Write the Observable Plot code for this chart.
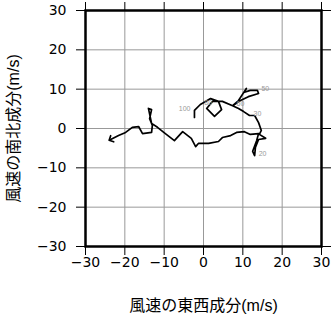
<!DOCTYPE html>
<html><head><meta charset="utf-8">
<script src="https://cdn.jsdelivr.net/npm/d3@7"></script>
<script src="https://cdn.jsdelivr.net/npm/@observablehq/plot@0.6"></script>
<style>body{margin:0;background:#fff}</style>
</head><body><div id="chart"></div>
<script>
// Hodograph: east-west (u) and north-south (v) wind components, m/s
const uValues = [-2.3,-2.3,-0.8,1.8,3.8,4.6,2.8,0.8,2.3,4.8,7.4,8.9,10.9,10.4,11.9,13.7,14.0,11.4,9.4,7.4,8.9,10.2,11.7,13.0,14.0,14.7,14.2,15.8,14.0,13.2,13.0,12.5,13.5,14.0,11.9,10.4,8.4,6.9,4.8,3.8,1.3,-1.3,-2.0,-3.1,-5.3,-7.4,-9.7,-11.7,-13.2,-14.0,-13.2,-13.7,-13.0,-13.2,-15.5,-16.5,-18.1,-19.8,-21.6,-23.6];
const vValues = [2.8,4.6,6.1,7.6,6.9,4.8,3.1,5.1,6.9,6.9,5.8,7.1,10.2,9.2,9.7,9.7,8.9,8.1,7.1,5.8,5.1,4.3,3.3,3.3,1.5,-0.5,-1.5,-2.5,-2.8,-4.8,-6.9,-5.8,-3.1,-1.3,-1.5,-0.8,-1.0,-1.8,-2.3,-3.3,-3.8,-3.8,-4.6,-2.5,-0.8,-3.1,-1.3,0.3,1.3,5.1,4.8,2.5,0.8,-1.0,-1.3,0.5,0.3,-1.0,-1.8,-2.8];
const levelLabels = ["100","80","60","50","30","20"];
const levelIndex = [1,2,10,15,22,30];
const ticks = [-30,-20,-10,0,10,20,30];
const gridTicks = [-20,-10,0,10,20];
const xTitle = "風速の東西成分(m/s)";
const yTitle = "風速の南北成分(m/s)";

const data = uValues.map((u,i)=>({u, v: vValues[i]}));
const labelData = levelLabels.map((t,k)=>({t, u: uValues[levelIndex[k]], v: vValues[levelIndex[k]]}));
const labelsStart = labelData.filter(d => d.t !== "100");
const labelsEnd = labelData.filter(d => d.t === "100");

const chart = Plot.plot({
  width: 331, height: 318,
  marginLeft: 85, marginRight: 10, marginTop: 10, marginBottom: 72,
  style: {fontFamily: "'Liberation Sans', Arial, 'Noto Sans CJK JP', sans-serif", fontSize: "15px", background: "#fff", color: "#000"},
  x: {domain: [-30,30], label: null},
  y: {domain: [-30,30], label: null},
  marks: [
    Plot.gridX(gridTicks, {stroke: "#999", strokeOpacity: 1}),
    Plot.gridY(gridTicks, {stroke: "#999", strokeOpacity: 1}),
    Plot.axisX(ticks, {anchor: "bottom", tickSize: 9, tickPadding: 2, label: null, fontSize: 14, fontFamily: "'DejaVu Sans', sans-serif"}),
    Plot.axisX(ticks, {anchor: "top", tickSize: 9, label: null, tickFormat: () => ""}),
    Plot.axisY(ticks, {anchor: "left", tickSize: 9, tickPadding: 10, label: null, fontSize: 14, fontFamily: "'DejaVu Sans', sans-serif"}),
    Plot.axisY(ticks, {anchor: "right", tickSize: 9, label: null, tickFormat: () => ""}),
    Plot.frame({stroke: "#000", strokeWidth: 2.5}),
    Plot.line(data, {x: "u", y: "v", stroke: "#000", strokeWidth: 1.7, markerEnd: "arrow"}),
    Plot.text(labelsStart, {x: "u", y: "v", text: "t", textAnchor: "start", dx: 4, dy: -2, fontSize: 7, fill: "#999"}),
    Plot.text(labelsEnd, {x: "u", y: "v", text: "t", textAnchor: "end", dx: -4, dy: -2, fontSize: 7, fill: "#999"}),
    Plot.text([xTitle], {frameAnchor: "bottom", textAnchor: "middle", lineAnchor: "middle", dy: 59, fontSize: 16}),
    Plot.text([yTitle], {frameAnchor: "left", textAnchor: "middle", lineAnchor: "middle", dx: -72, rotate: -90, fontSize: 16})
  ]
});
document.getElementById("chart").appendChild(chart);
</script>
</body></html>
